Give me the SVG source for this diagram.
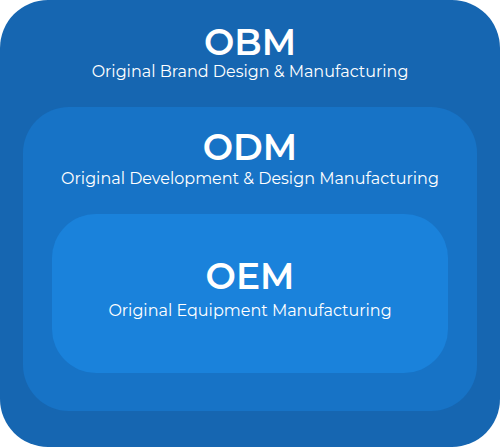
<svg xmlns="http://www.w3.org/2000/svg" width="500" height="447" viewBox="0 0 500 447">
<style>
.t{font-family:Montserrat,"Open Sans","Noto Sans",sans-serif;fill:#ffffff;text-anchor:middle}
.h{font-size:36px;font-weight:600}
.s{font-size:16px}
</style>
<g id="obm">
<rect x="0" y="0" width="500" height="447" rx="48" fill="#1666B1"/>
<text class="t h" x="250" y="55">OBM</text>
<text class="t s" x="250" y="77">Original Brand Design &amp; Manufacturing</text>
</g>
<g id="odm">
<rect x="23" y="107" width="454" height="304" rx="46" fill="#1773C6"/>
<text class="t h" x="250" y="160">ODM</text>
<text class="t s" x="250" y="184">Original Development &amp; Design Manufacturing</text>
</g>
<g id="oem">
<rect x="52" y="214" width="396" height="159" rx="44" fill="#1A82DB"/>
<text class="t h" x="250" y="289">OEM</text>
<text class="t s" x="250" y="316">Original Equipment Manufacturing</text>
</g>
<g id="connectors"/>
</svg>
